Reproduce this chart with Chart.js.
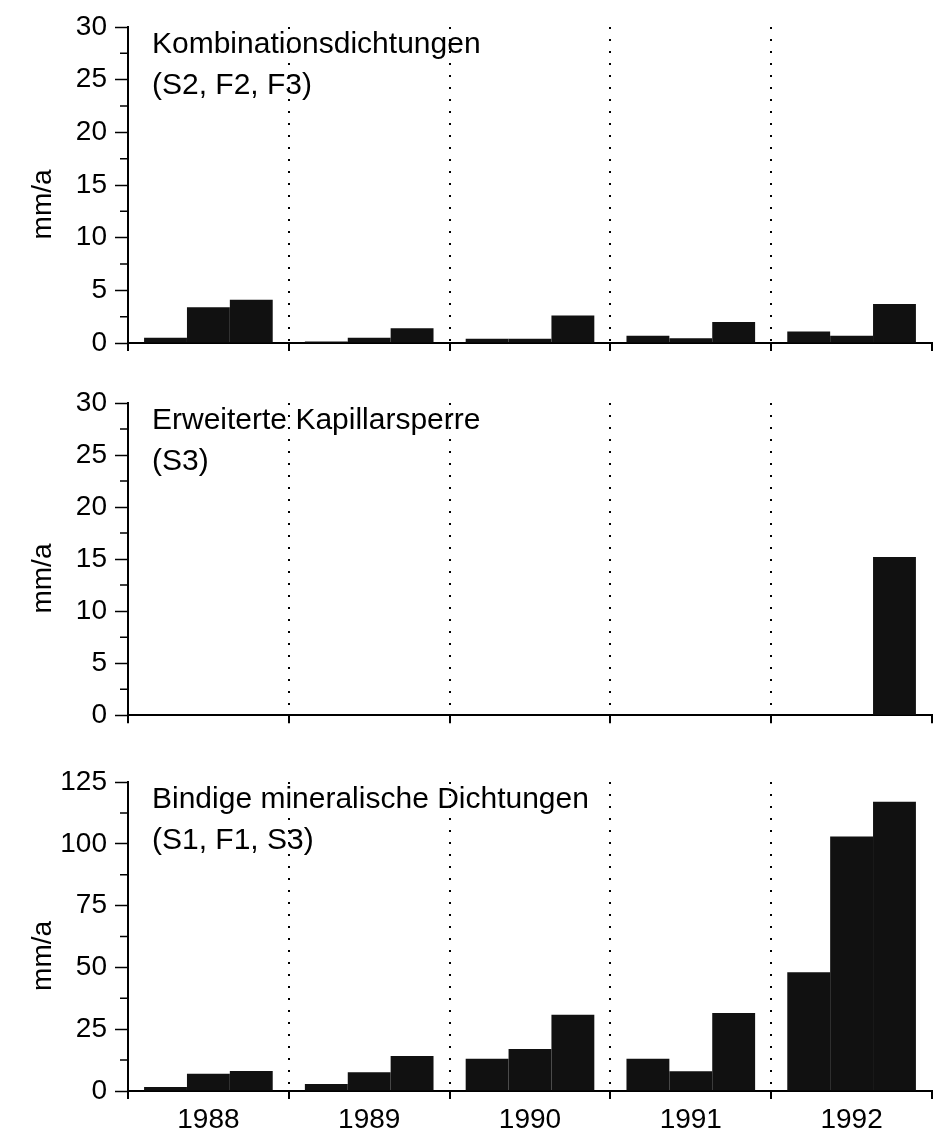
<!DOCTYPE html>
<html>
<head>
<meta charset="utf-8">
<script src="https://cdn.jsdelivr.net/npm/chart.js@4.4.1/dist/chart.umd.min.js"></script>
<style>
  html, body { margin: 0; padding: 0; background: #fff; }
  .panel { position: absolute; left: 0; width: 934px; }
</style>
</head>
<body>
<div class="panel" style="top:0;height:370px"><canvas id="c1"></canvas></div>
<div class="panel" style="top:370px;height:370px"><canvas id="c2"></canvas></div>
<div class="panel" style="top:740px;height:397px"><canvas id="c3"></canvas></div>
<script>
const years = ['1988', '1989', '1990', '1991', '1992'];

// Kombinationsdichtungen (S2, F2, F3)
const kombiS2 = [0.5, 0.15, 0.4, 0.7, 1.1];
const kombiF2 = [3.4, 0.5, 0.4, 0.45, 0.7];
const kombiF3 = [4.1, 1.4, 2.6, 2.0, 3.7];

// Erweiterte Kapillarsperre (S3)
const kapA = [0, 0, 0, 0, 0];
const kapB = [0, 0, 0, 0, 0];
const kapC = [0, 0, 0, 0, 15.2];

// Bindige mineralische Dichtungen (S1, F1, S3)
const bindS1 = [1.6, 2.8, 13, 13, 48];
const bindF1 = [7, 7.6, 17, 8, 103];
const bindS3 = [8.1, 14.2, 30.8, 31.6, 117];

Chart.defaults.font.family = '"Liberation Sans", Arial, sans-serif';
Chart.defaults.color = '#000';

// Beschriftung oben links in der Grafik
const panelText = {
  id: 'panelText',
  afterDraw(chart, args, opts) {
    const { ctx, chartArea } = chart;
    ctx.save();
    ctx.font = '30px "Liberation Sans", Arial, sans-serif';
    ctx.fillStyle = '#000';
    opts.lines.forEach((t, i) => {
      ctx.fillText(t, chartArea.left + 24, chartArea.top + 26 + i * 41);
    });
    ctx.restore();
  }
};

// kurze Zwischenstriche an der y-Achse
const minorTicks = {
  id: 'minorTicks',
  afterDraw(chart, args, opts) {
    const y = chart.scales.y;
    const ctx = chart.ctx;
    ctx.save();
    ctx.strokeStyle = '#000';
    ctx.lineWidth = 1.5;
    ctx.beginPath();
    y.ticks.forEach(t => {
      if (t.value % opts.major !== 0) {
        const py = y.getPixelForValue(t.value);
        ctx.moveTo(y.right - 8, py);
        ctx.lineTo(y.right, py);
      }
    });
    ctx.stroke();
    ctx.restore();
  }
};

function makePanel(id, series, text, yMax, minorStep, major, topPad, xHeight, showYears) {
  new Chart(document.getElementById(id), {
    type: 'bar',
    data: {
      labels: years,
      datasets: series.map(s => ({
        data: s,
        backgroundColor: '#111',
        borderWidth: 0,
        barPercentage: 1.0,
        categoryPercentage: 0.8
      }))
    },
    options: {
      responsive: true,
      maintainAspectRatio: false,
      animation: false,
      layout: { padding: { left: 0, right: 2, top: topPad, bottom: 0 } },
      plugins: {
        legend: { display: false },
        tooltip: { enabled: false },
        panelText: { lines: text },
        minorTicks: { major: major }
      },
      scales: {
        x: {
          offset: true,
          grid: {
            offset: true,
            drawOnChartArea: true,
            color: c => (c.type !== 'tick' || c.index === 0) ? 'rgba(0,0,0,0)' : '#000',
            lineWidth: 2,
            tickColor: '#000',
            tickWidth: 2,
            tickLength: 8
          },
          border: { display: true, color: '#000', width: 2, dash: [2, 10] },
          ticks: {
            display: showYears,
            font: { size: 28 },
            padding: 4,
            maxRotation: 0,
            autoSkip: false
          },
          afterFit: s => { s.height = xHeight; }
        },
        y: {
          min: 0,
          max: yMax,
          grid: {
            drawOnChartArea: false,
            tickLength: 13,
            tickWidth: 1.5,
            tickColor: c => (c.tick && c.tick.value % major === 0) ? '#000' : 'rgba(0,0,0,0)'
          },
          border: { display: true, color: '#000', width: 2 },
          ticks: {
            stepSize: minorStep,
            autoSkip: false,
            maxTicksLimit: 20,
            font: { size: 28 },
            padding: 8,
            callback: v => (v % major === 0 ? v : '')
          },
          title: {
            display: true,
            text: 'mm/a     ',
            font: { size: 28 },
            padding: { top: 26, bottom: 0 }
          },
          afterFit: s => { s.width = 128; }
        }
      }
    },
    plugins: [panelText, minorTicks]
  });
}

makePanel('c1', [kombiS2, kombiF2, kombiF3], ['Kombinationsdichtungen', '(S2, F2, F3)'], 30, 2.5, 5, 27, 27, false);
makePanel('c2', [kapA, kapB, kapC], ['Erweiterte Kapillarsperre', '(S3)'], 30, 2.5, 5, 33, 22, false);
makePanel('c3', [bindS1, bindF1, bindS3], ['Bindige mineralische Dichtungen', '(S1, F1, S3)'], 125, 12.5, 25, 42, 46, true);
</script>
</body>
</html>
